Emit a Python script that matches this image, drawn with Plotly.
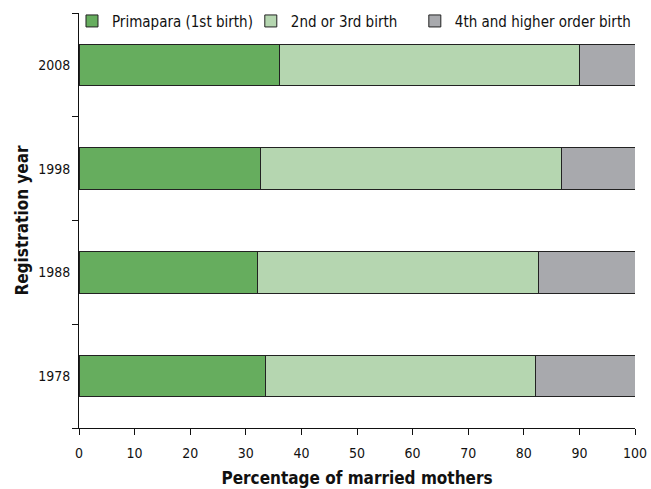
import plotly.graph_objects as go

years = ["1978", "1988", "1998", "2008"]
primapara = [33.6, 32.1, 32.6, 36.0]
second_third = [48.5, 50.5, 54.2, 54.0]
fourth_plus = [17.9, 17.4, 13.2, 10.0]
series_names = ["Primapara (1st birth)", "2nd or 3rd birth", "4th and higher order birth"]
colors = ["#66ad5e", "#b5d6b0", "#a8a9ad"]
x_ticks = [0, 10, 20, 30, 40, 50, 60, 70, 80, 90, 100]

FONT = "DejaVu Sans Condensed, sans-serif"

legend_ids = ["legend", "legend2", "legend3"]
legend_x = [-0.0126, 0.309, 0.604]

fig = go.Figure()
for name, vals, col, lid in zip(series_names, [primapara, second_third, fourth_plus], colors, legend_ids):
    fig.add_trace(go.Bar(
        y=years, x=vals, name=name, orientation="h", legend=lid,
        marker=dict(color=col, line=dict(color="#222222", width=1)),
    ))

legend_common = dict(orientation="h", y=1.02, xanchor="left", yanchor="top",
                     bgcolor="rgba(0,0,0,0)", font=dict(size=15), itemwidth=30)

fig.update_layout(
    barmode="stack",
    bargap=0.6,
    width=651, height=489,
    margin=dict(l=79, r=16, t=13, b=61, autoexpand=False),
    paper_bgcolor="white", plot_bgcolor="white",
    font=dict(family=FONT, size=14, color="#111111"),
    showlegend=True,
    legend=dict(x=legend_x[0], **legend_common),
    legend2=dict(x=legend_x[1], **legend_common),
    legend3=dict(x=legend_x[2], **legend_common),
    xaxis=dict(range=[0, 100], tickvals=x_ticks, ticks="outside", ticklen=6,
               tickcolor="#111111", showline=True, linecolor="#111111", linewidth=1,
               showgrid=False, zeroline=False, automargin=False, ticklabelstandoff=6,
               title=dict(text="<b>Percentage of married mothers</b>", font=dict(size=17), standoff=12)),
    yaxis=dict(type="category", categoryorder="array", categoryarray=years,
               range=[-0.5, 3.5], ticks="outside", ticklen=6, tickson="boundaries",
               tickcolor="#111111", showline=True, linecolor="#111111", linewidth=1,
               showgrid=False, zeroline=False, automargin=False, ticklabelstandoff=5,
               title=dict(text="<b>Registration year</b>", font=dict(size=17), standoff=5)),
)

fig.write_html("out.html",
               config={"displayModeBar": False},
               post_script="document.body.style.margin='0';document.documentElement.style.overflow='hidden';document.body.style.overflow='hidden';")
